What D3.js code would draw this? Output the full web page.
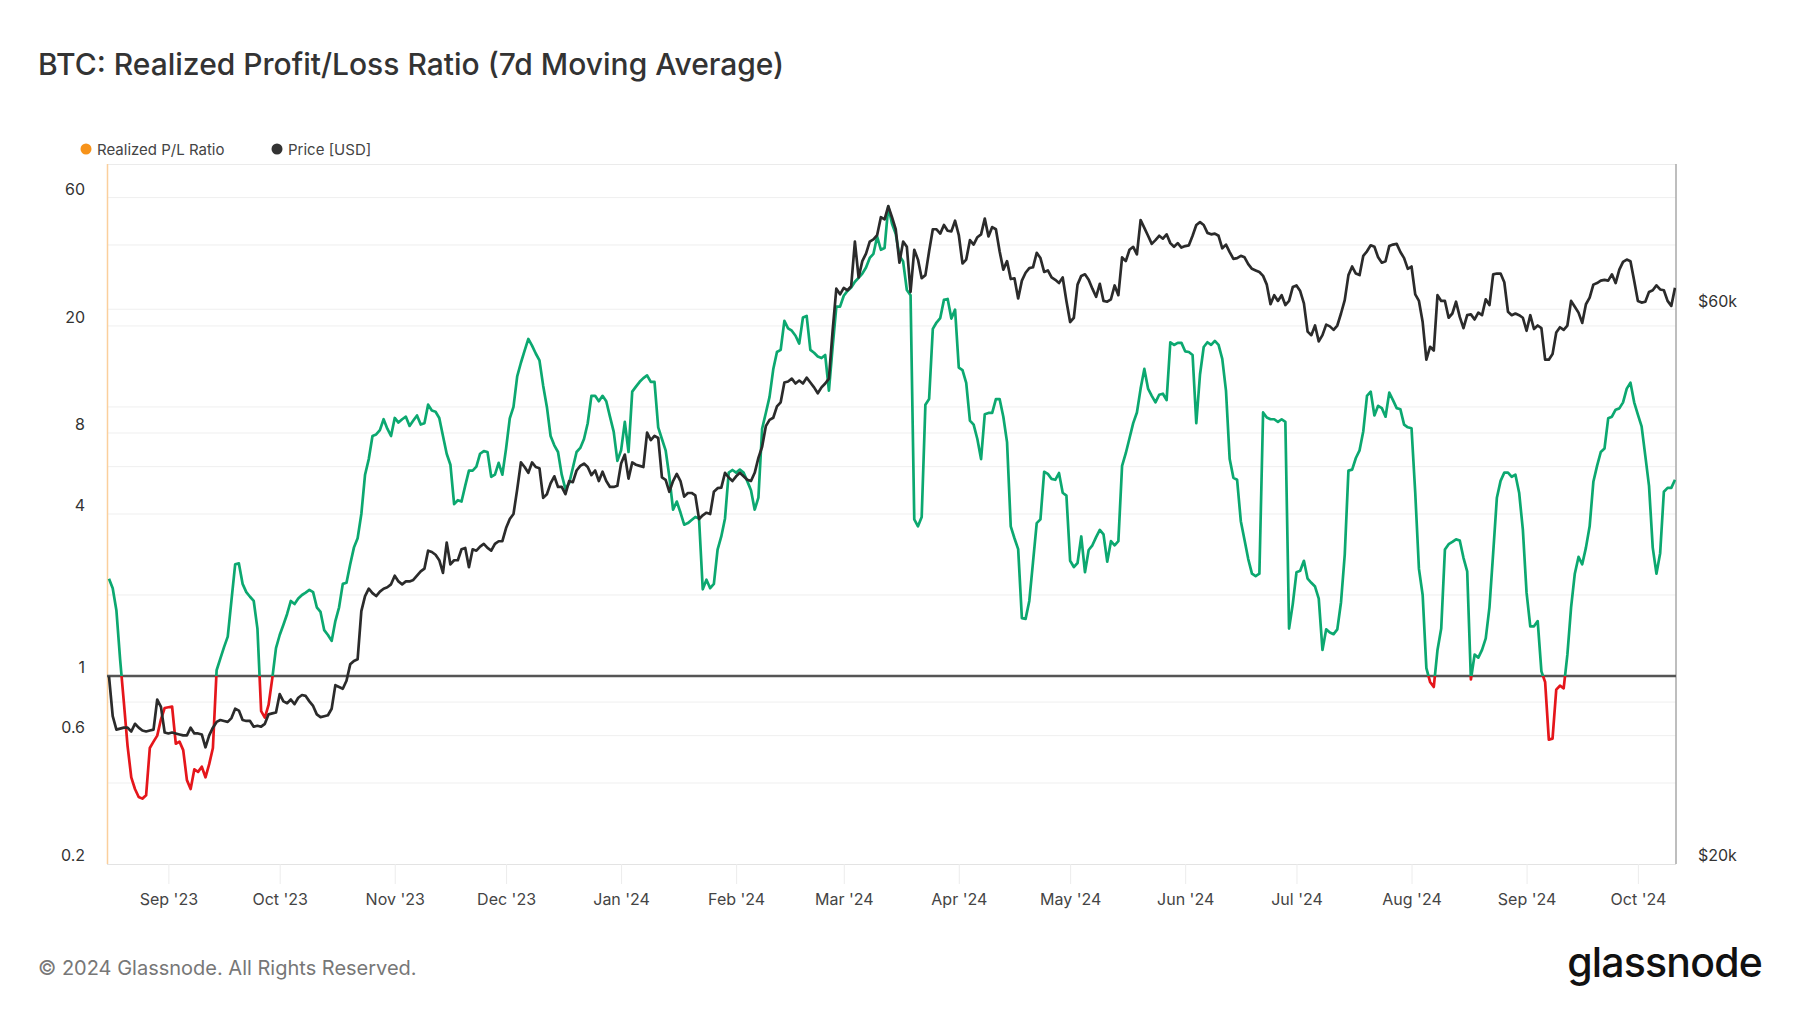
<!DOCTYPE html>
<html>
<head>
<meta charset="utf-8">
<script src="https://cdn.jsdelivr.net/npm/d3@7"></script>
<style>
  html, body { margin: 0; padding: 0; background: #fff; }
  svg { display: block; font-family: Inter, "Noto Sans", sans-serif; }
</style>
</head>
<body>
<svg id="chart" width="1800" height="1013"></svg>
<script>
// ---------- DATA ----------
const startDate = "2023-08-16"; // first daily point

// BTC price, thousand USD, daily
const priceK = [
29.0,26.8,26.1,26.15,26.2,26.2,26.0,26.4,26.2,26.05,
26.0,26.05,26.1,27.7,27.3,25.95,25.9,25.95,25.9,25.85,
25.8,25.8,26.2,25.9,25.9,25.85,25.2,25.8,26.2,26.5,
26.6,26.55,26.5,26.7,27.2,27.1,26.6,26.55,26.55,26.25,
26.3,26.25,26.4,26.9,26.95,27.0,28.0,27.6,27.5,27.7,
27.45,27.8,27.95,27.9,27.6,27.35,26.9,26.75,26.8,26.85,
27.2,28.5,28.4,28.3,28.75,29.7,29.9,30.0,33.0,34.0,
34.5,34.2,34.0,34.3,34.5,34.6,34.8,35.4,35.0,34.8,
35.0,35.0,35.1,35.4,35.7,35.9,37.2,37.1,36.9,36.5,
35.6,37.8,36.2,36.5,36.5,37.3,37.4,36.0,37.3,37.2,
37.5,37.7,37.4,37.2,37.7,37.9,37.9,38.9,39.6,40.0,
42.0,44.3,43.9,43.4,44.3,43.9,43.8,41.3,41.6,42.5,
43.1,42.2,42.2,41.6,42.7,42.6,43.6,44.0,44.2,43.9,
43.2,43.6,42.7,43.5,42.7,42.2,42.2,42.3,44.2,45.0,
42.9,44.3,44.1,44.0,43.9,47.0,46.3,46.7,46.5,43.0,
42.8,41.8,42.7,43.3,42.7,41.4,41.7,41.7,41.5,39.6,
39.9,40.1,40.0,41.8,42.1,42.15,43.4,43.0,42.7,43.1,
43.4,43.1,42.8,42.7,43.4,44.7,45.7,47.6,48.2,48.4,
49.5,49.9,51.9,52.0,52.3,51.8,52.1,51.8,52.4,51.9,
51.4,50.8,51.4,51.8,52.3,57.5,62.5,61.8,62.6,62.3,
62.8,68.6,63.9,66.0,67.0,68.6,68.9,69.5,72.0,71.7,
73.6,72.0,70.3,65.8,68.6,67.9,62.1,67.5,66.2,63.8,
64.2,67.3,70.3,70.3,69.7,70.9,70.1,70.0,71.5,69.5,
65.7,66.2,68.8,68.2,69.2,69.6,71.8,69.3,70.6,70.3,
67.3,64.9,66.0,63.7,63.8,61.3,63.5,64.5,65.1,65.2,
67.1,66.4,64.6,64.8,63.9,63.6,63.2,63.9,61.0,58.5,
59.0,63.0,64.1,64.3,63.6,62.5,61.5,63.1,61.0,60.9,
61.2,62.9,61.7,66.5,66.0,67.5,67.9,66.9,71.6,70.5,
69.4,68.3,68.8,69.4,69.0,69.6,68.4,67.9,68.4,67.8,
68.0,68.1,69.4,70.9,71.3,70.9,69.8,69.6,69.7,69.4,
67.7,68.2,67.2,66.3,66.4,66.7,66.5,65.6,65.0,64.8,
64.6,64.1,63.0,60.6,61.7,61.0,61.7,60.5,61.0,62.7,
62.9,62.2,60.7,57.4,57.0,58.1,56.3,57.0,58.2,58.0,
57.6,58.1,59.5,61.1,64.2,65.3,64.4,64.2,66.7,67.3,
68.1,67.9,66.5,65.8,66.0,68.0,68.2,68.3,67.2,66.4,
65.0,65.3,61.8,61.0,58.5,54.3,55.7,55.3,61.7,61.0,
61.0,59.0,59.5,60.9,59.1,57.8,59.3,59.4,58.8,59.6,
59.3,61.2,60.5,64.3,64.4,64.4,63.3,59.7,59.3,59.5,
59.3,59.0,57.5,59.3,57.7,58.1,57.8,54.3,54.3,54.9,
57.3,57.9,57.6,58.1,61.0,60.3,59.6,58.4,60.6,61.4,
63.0,63.2,63.5,63.6,63.5,64.3,63.2,64.9,65.9,66.2,
66.0,63.5,61.0,60.8,60.9,62.1,62.3,62.9,62.4,62.3,
61.0,60.4,62.6
];

// Realized Profit/Loss Ratio (7d MA), daily
const plRatio = [
2.3,2.12,1.75,1.15,0.8,0.55,0.42,0.38,0.355,0.35,
0.36,0.54,0.57,0.60,0.69,0.76,0.765,0.77,0.56,0.57,
0.53,0.41,0.38,0.45,0.44,0.46,0.42,0.47,0.54,1.05,
1.16,1.28,1.40,1.91,2.6,2.62,2.2,2.05,1.97,1.9,
1.5,0.74,0.70,0.78,0.98,1.27,1.42,1.55,1.7,1.9,
1.85,1.94,2.0,2.04,2.09,2.05,1.8,1.73,1.48,1.42,
1.35,1.6,1.8,2.2,2.22,2.6,3.0,3.25,4.0,5.6,
6.4,7.8,7.9,8.2,9.0,8.3,7.8,9.1,8.75,9.0,
9.2,8.5,8.9,9.3,8.6,8.7,10.2,9.7,9.6,9.1,
7.8,6.7,6.1,4.35,4.5,4.45,5.1,5.8,5.8,6.0,
6.7,6.85,6.8,5.5,5.6,6.2,5.6,7.0,9.07,10.0,
13.0,14.6,16.2,17.9,16.9,15.8,14.9,12.0,10.0,7.8,
7.2,6.8,5.6,4.95,5.2,5.94,6.8,7.04,7.6,8.7,
11.0,11.0,10.5,11.0,10.5,9.2,8.1,6.3,6.9,8.8,
6.8,11.4,11.9,12.4,12.8,13.1,12.4,12.4,8.4,7.6,
6.9,5.5,4.15,4.45,4.05,3.65,3.7,3.8,3.9,3.85,
2.1,2.28,2.12,2.2,2.95,3.3,3.85,5.7,5.83,5.7,
5.85,5.7,5.3,4.9,4.15,4.6,8.3,9.5,10.9,13.8,
16.0,16.3,20.9,19.6,19.2,18.4,17.2,21.5,21.8,16.3,
15.9,15.4,15.2,15.6,11.5,16.7,23.6,23.6,25.9,27.0,
27.8,29.2,30.2,31.3,33.0,35.8,37.1,43.0,38.4,39.0,
55.6,48.0,44.0,36.5,34.7,27.2,26.0,3.82,3.6,3.9,
10.2,10.7,19.5,20.6,21.4,25.0,25.2,21.3,23.0,14.0,
13.7,12.3,8.9,8.6,7.6,6.4,9.4,9.5,9.5,10.7,
10.7,9.2,7.4,3.6,3.25,2.96,1.64,1.63,1.9,2.65,
3.7,3.82,5.74,5.64,5.4,5.36,5.68,4.8,4.68,2.68,
2.54,2.63,3.3,2.43,2.94,3.06,3.28,3.49,3.36,2.66,
3.17,3.06,3.17,6.04,6.73,7.65,8.71,9.54,11.7,13.85,
11.7,11.0,10.4,11.1,11.2,10.6,17.4,17.0,17.3,17.3,
16.1,16.0,15.6,8.7,13.2,16.7,17.4,17.0,17.6,17.0,
15.1,11.5,6.4,5.45,5.36,3.76,3.2,2.72,2.4,2.35,
2.4,9.54,9.13,9.0,9.0,8.8,9.0,8.8,1.50,1.85,
2.43,2.46,2.68,2.30,2.22,2.15,1.94,1.25,1.49,1.45,
1.43,1.49,1.88,2.82,5.8,5.85,6.46,6.9,8.13,11.0,
11.4,9.3,10.1,9.9,9.2,11.3,10.6,9.9,9.8,8.6,
8.4,8.33,4.8,2.5,2.0,1.07,0.95,0.91,1.25,1.5,
2.95,3.09,3.15,3.22,3.19,2.75,2.45,0.97,1.2,1.17,
1.25,1.38,1.8,2.86,4.6,5.31,5.7,5.7,5.5,5.6,
4.8,3.5,2.04,1.53,1.53,1.6,1.04,0.95,0.58,0.585,
0.89,0.92,0.90,1.2,1.8,2.4,2.77,2.6,3.0,3.6,
5.27,6.04,6.8,7.0,9.07,9.2,9.77,9.88,10.4,11.7,
12.3,10.4,9.36,8.47,6.58,5.09,3.0,2.4,2.86,4.84,
5.0,5.0,5.36
];

const ratioTickValues = [0.2, 0.6, 1, 4, 8, 20, 60];
const ratioGridValues = [0.4, 0.6, 0.8, 2, 4, 6, 8, 10, 20, 40, 60];
const priceTickValues = [20, 60];
const ratioDomain = [0.2, 80];
const priceDomain = [20, 80];

// ---------- LAYOUT ----------
const svg = d3.select("#chart");
const L = 107, R = 1676, T = 164, B = 864;
const start = d3.utcParse("%Y-%m-%d")(startDate);
const dates = priceK.map((_, i) => d3.utcDay.offset(start, i));

const x = d3.scaleUtc().domain([dates[0], dates[dates.length - 1]]).range([109, 1675]);
const yR = d3.scaleLog().domain(ratioDomain).range([B, T]);
const yP = d3.scaleLog().domain(priceDomain).range([B, T]);

// Title
svg.append("text").attr("x", 38).attr("y", 75)
  .attr("font-size", 30).attr("font-weight", 500).attr("fill", "#333")
  .text("BTC: Realized Profit/Loss Ratio (7d Moving Average)");

// Legend
const legend = [
  {label: "Realized P/L Ratio", color: "#f7931a", cx: 86},
  {label: "Price [USD]", color: "#333333", cx: 277}
];
legend.forEach(l => {
  svg.append("circle").attr("cx", l.cx).attr("cy", 149).attr("r", 5.5).attr("fill", l.color);
  svg.append("text").attr("x", l.cx + 11).attr("y", 154.5)
    .attr("font-size", 15).attr("fill", "#444").text(l.label);
});

// Grid lines
const grid = svg.append("g");
grid.selectAll("line.r").data(ratioGridValues).join("line")
  .attr("x1", L).attr("x2", R).attr("y1", d => yR(d)).attr("y2", d => yR(d))
  .attr("stroke", "#efefef").attr("stroke-width", 1);
grid.selectAll("line.p").data([60]).join("line")
  .attr("class", "p")
  .attr("x1", L).attr("x2", R).attr("y1", d => yP(d)).attr("y2", d => yP(d))
  .attr("stroke", "#efefef").attr("stroke-width", 1);

// Frame
svg.append("line").attr("x1", L).attr("x2", R).attr("y1", T + 0.5).attr("y2", T + 0.5).attr("stroke", "#ebebeb");
svg.append("line").attr("x1", L).attr("x2", R).attr("y1", B + 0.5).attr("y2", B + 0.5).attr("stroke", "#e3e3e3");

// X axis
const xAxis = d3.axisBottom(x)
  .ticks(d3.utcMonth.every(1))
  .tickFormat(d3.utcFormat("%b '%y"))
  .tickSize(20).tickPadding(10);
const gx = svg.append("g").attr("transform", `translate(0,${B})`).call(xAxis);
gx.select(".domain").remove();
gx.selectAll(".tick line").attr("stroke", "#ececec");
gx.selectAll(".tick text").attr("font-size", 16).attr("fill", "#444").attr("font-family", "Inter, sans-serif");

// Left axis (ratio)
const yAxisL = d3.axisLeft(yR).tickValues(ratioTickValues).tickFormat(d3.format("~g")).tickSize(0).tickPadding(22);
const gyl = svg.append("g").attr("transform", `translate(${L},0)`).call(yAxisL);
gyl.select(".domain").remove();
gyl.selectAll(".tick text").attr("font-size", 16).attr("fill", "#333").attr("dy", "-0.2em")
  .attr("font-family", "Inter, sans-serif");

// Right axis (price)
const yAxisR = d3.axisRight(yP).tickValues(priceTickValues).tickFormat(d => `$${d}k`).tickSize(0).tickPadding(22);
const gyr = svg.append("g").attr("transform", `translate(${R},0)`).call(yAxisR);
gyr.select(".domain").remove();
gyr.selectAll(".tick text").attr("font-size", 16).attr("fill", "#333").attr("dy", "-0.2em")
  .attr("font-family", "Inter, sans-serif");

// Axis edge lines
svg.append("line").attr("x1", L + 0.5).attr("x2", L + 0.5).attr("y1", T).attr("y2", B).attr("stroke", "#fbcf9c").attr("stroke-width", 1.5);
svg.append("line").attr("x1", R).attr("x2", R).attr("y1", T).attr("y2", B).attr("stroke", "#a8a8a8").attr("stroke-width", 1.5);

// Reference line at 1
svg.append("line").attr("x1", L).attr("x2", R).attr("y1", yR(1)).attr("y2", yR(1))
  .attr("stroke", "#555555").attr("stroke-width", 2.6);

// Gradient for ratio line (green above 1, red below)
const defs = svg.append("defs");
const off = (yR(1) - T) / (B - T);
const grad = defs.append("linearGradient").attr("id", "plgrad")
  .attr("gradientUnits", "userSpaceOnUse").attr("x1", 0).attr("x2", 0).attr("y1", T).attr("y2", B);
grad.append("stop").attr("offset", off).attr("stop-color", "#0ca870");
grad.append("stop").attr("offset", off).attr("stop-color", "#e5161b");

const clip = defs.append("clipPath").attr("id", "plot");
clip.append("rect").attr("x", L).attr("y", T).attr("width", R - L).attr("height", B - T);

const ratioLine = d3.line().x((d, i) => x(dates[i])).y(d => yR(d));
const priceLine = d3.line().x((d, i) => x(dates[i])).y(d => yP(d));

const plotG = svg.append("g").attr("clip-path", "url(#plot)");
plotG.append("path").datum(plRatio).attr("d", ratioLine)
  .attr("fill", "none").attr("stroke", "url(#plgrad)").attr("stroke-width", 2.7)
  .attr("stroke-linejoin", "round");
plotG.append("path").datum(priceK).attr("d", priceLine)
  .attr("fill", "none").attr("stroke", "#2b2b2b").attr("stroke-width", 2.7)
  .attr("stroke-linejoin", "round");

// Footer
svg.append("text").attr("x", 38).attr("y", 975)
  .attr("font-size", 20).attr("fill", "#777")
  .text("© 2024 Glassnode. All Rights Reserved.");
svg.append("text").attr("x", 1762).attr("y", 977).attr("text-anchor", "end")
  .attr("font-size", 41).attr("font-weight", 500).attr("fill", "#111").attr("letter-spacing", -0.8)
  .text("glassnode");
</script>
</body>
</html>
